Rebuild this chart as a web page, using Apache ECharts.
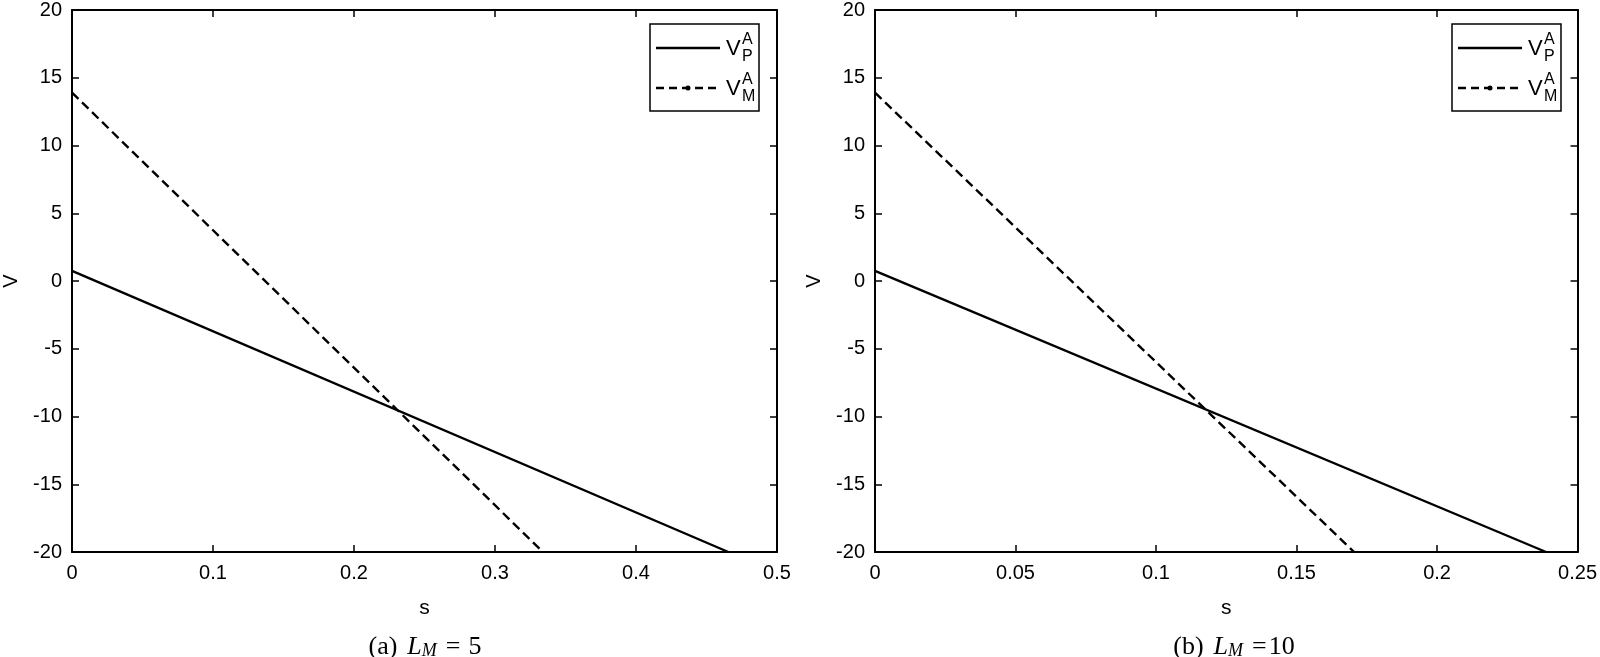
<!DOCTYPE html>
<html>
<head>
<meta charset="utf-8">
<script src="https://cdn.jsdelivr.net/npm/echarts@6/dist/echarts.min.js"></script>
<style>
html,body{margin:0;padding:0;background:#fff;}
#chart{width:1600px;height:657px;}
</style>
</head>
<body>
<div id="chart"></div>
<script>
// ---- data ----
const xTicksA = [0, 0.1, 0.2, 0.3, 0.4, 0.5];
const xTicksB = [0, 0.05, 0.1, 0.15, 0.2, 0.25];
const yTicks = [-20, -15, -10, -5, 0, 5, 10, 15, 20];

const sA_P = [0, 0.4655];
const vA_P = [0.75, -20];
const sA_M = [0, 0.334];
const vA_M = [13.9, -20];

const sB_P = [0, 0.2388];
const vB_P = [0.75, -20];
const sB_M = [0, 0.1705];
const vB_M = [13.9, -20];

const captions = ['(a)', '(b)'];
const captionValues = ['5', '10'];

// ---- chart ----
const FONT = 'Liberation Sans, Arial, sans-serif';
const SERIF = 'Liberation Serif, Times New Roman, serif';
const chart = echarts.init(document.getElementById('chart'));

const grids = [
  {left: 72, top: 7, width: 705, height: 545},
  {left: 875, top: 7, width: 704, height: 545}
];
const xTickSets = [xTicksA, xTicksB];

const xAxes = [], yAxes = [];
grids.forEach((g, i) => {
  const ticks = xTickSets[i];
  const xmin = ticks[0], xmax = ticks[ticks.length - 1], xint = ticks[1] - ticks[0];
  const ymin = yTicks[0], ymax = yTicks[yTicks.length - 1], yint = yTicks[1] - yTicks[0];
  const base = {
    type: 'value', gridIndex: i, splitLine: {show: false},
    axisLine: {show: true, onZero: false, lineStyle: {color: '#000', width: 2}},
    axisTick: {show: true, inside: true, length: 7, lineStyle: {color: '#000', width: 1.5}}
  };
  xAxes.push(Object.assign({}, base, {
    position: 'bottom', min: xmin, max: xmax, interval: xint,
    name: 's', nameLocation: 'middle', nameGap: 46,
    nameTextStyle: {fontFamily: FONT, fontSize: 21, color: '#000'},
    axisLabel: {fontFamily: FONT, fontSize: 20, color: '#000', margin: 11,
      formatter: v => String(+v.toFixed(4))}
  }));
  xAxes.push(Object.assign({}, base, {
    position: 'top', min: xmin, max: xmax, interval: xint,
    axisLabel: {show: false}
  }));
  yAxes.push(Object.assign({}, base, {
    position: 'left', min: ymin, max: ymax, interval: yint,
    name: 'V', nameLocation: 'middle', nameGap: 51,
    nameTextStyle: {fontFamily: FONT, fontSize: 20, color: '#000'},
    axisLabel: {fontFamily: FONT, fontSize: 20, color: '#000', margin: 10}
  }));
  yAxes.push(Object.assign({}, base, {
    position: 'right', min: ymin, max: ymax, interval: yint,
    axisLabel: {show: false}
  }));
});

function pts(xs, ys) { return xs.map((x, k) => [x, ys[k]]); }

function mkSeries(name, idx, xs, ys, dashed) {
  return {
    type: 'line', name: name, xAxisIndex: idx * 2, yAxisIndex: idx * 2,
    data: pts(xs, ys), showSymbol: false, symbol: 'none', silent: true,
    lineStyle: {color: '#000', width: 2.4, type: dashed ? [9, 5] : 'solid'},
    animation: false
  };
}

const series = [
  mkSeries('VP', 0, sA_P, vA_P, false),
  mkSeries('VM', 0, sA_M, vA_M, true),
  mkSeries('VP', 1, sB_P, vB_P, false),
  mkSeries('VM', 1, sB_M, vB_M, true)
];

// legend boxes (graphic)
function legendElems(boxLeft) {
  const top = 24, w = 109, h = 87;
  const els = [];
  els.push({type: 'rect', shape: {x: boxLeft, y: top, width: w, height: h},
    style: {fill: '#fff', stroke: '#000', lineWidth: 1.5}, z: 100});
  const rows = [{y: 48, sub: 'P', dashed: false}, {y: 88, sub: 'M', dashed: true}];
  rows.forEach(r => {
    els.push({type: 'line', shape: {x1: boxLeft + 6, y1: r.y, x2: boxLeft + 70, y2: r.y},
      style: {stroke: '#000', lineWidth: 2.4, lineDash: r.dashed ? [8, 5] : null}, z: 101});
    if (r.dashed) {
      els.push({type: 'circle', shape: {cx: boxLeft + 38, cy: r.y, r: 2.5},
        style: {fill: '#000'}, z: 102});
    }
    els.push({type: 'text', x: boxLeft + 76, y: r.y + 1,
      style: {text: 'V', font: '22px ' + FONT, fill: '#000', verticalAlign: 'middle', align: 'left'}, z: 101});
    els.push({type: 'text', x: boxLeft + 92, y: r.y - 8,
      style: {text: 'A', font: '16px ' + FONT, fill: '#000', verticalAlign: 'middle', align: 'left'}, z: 101});
    els.push({type: 'text', x: boxLeft + 92, y: r.y + 9,
      style: {text: r.sub, font: '16px ' + FONT, fill: '#000', verticalAlign: 'middle', align: 'left'}, z: 101});
  });
  return els;
}

function captionElem(cx, i) {
  const eq = i === 0 ? '{m2|=}{m3|' + captionValues[i] + '}' : '{m4|=}{m5|' + captionValues[i] + '}';
  return {
    type: 'text', x: cx, y: 647,
    style: {
      text: '{m|' + captions[i] + '}{i|L}{s|M}' + eq,
      align: 'center', verticalAlign: 'middle',
      rich: {
        m: {fontFamily: SERIF, fontSize: 26, lineHeight: 26, color: '#000', verticalAlign: 'middle', padding: [0, 10, 0, 0]},
        i: {fontFamily: SERIF, fontSize: 26, fontStyle: 'italic', lineHeight: 26, color: '#000', verticalAlign: 'middle'},
        s: {fontFamily: SERIF, fontSize: 18, fontStyle: 'italic', lineHeight: 6, color: '#000', verticalAlign: 'bottom', padding: [0, 9, 0, 0]},
        m2: {fontFamily: SERIF, fontSize: 26, lineHeight: 26, color: '#000', verticalAlign: 'middle', padding: [0, 8, 0, 0]},
        m3: {fontFamily: SERIF, fontSize: 26, lineHeight: 26, color: '#000', verticalAlign: 'middle'},
        m4: {fontFamily: SERIF, fontSize: 26, lineHeight: 26, color: '#000', verticalAlign: 'middle', padding: [0, 2, 0, 0]},
        m5: {fontFamily: SERIF, fontSize: 26, lineHeight: 26, color: '#000', verticalAlign: 'middle'}
      }
    }
  };
}

const graphic = [].concat(
  legendElems(650),
  legendElems(1452),
  [captionElem(425, 0), captionElem(1234, 1)]
);

chart.setOption({
  animation: false,
  backgroundColor: '#fff',
  grid: grids.map(g => Object.assign({containLabel: false}, g)),
  xAxis: xAxes,
  yAxis: yAxes,
  series: series,
  graphic: graphic
});
</script>
</body>
</html>
